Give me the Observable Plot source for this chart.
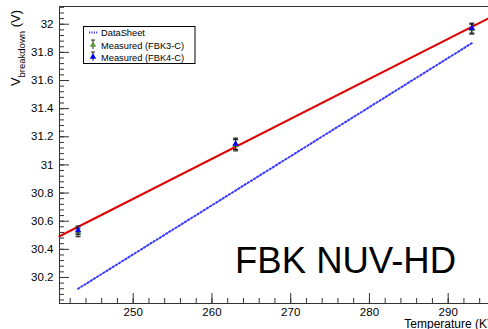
<!DOCTYPE html>
<html><head><meta charset="utf-8">
<script src="https://cdn.jsdelivr.net/npm/d3@7"></script>
<script src="https://cdn.jsdelivr.net/npm/@observablehq/plot@0.6"></script>
<style>
html,body{margin:0;padding:0;background:#fff;overflow:hidden}
#chart{position:relative;width:488px;height:329px}
svg{font-family:"Liberation Sans",Arial,Helvetica,sans-serif}
</style></head><body><div id="chart"></div>
<script>
// Measured breakdown voltages (V) vs temperature (K)
const temperature = [243, 263, 293];
const fbk3 = [30.52, 31.14, 31.965];
const fbk3Err = [0.03, 0.04, 0.035];
const fbk4 = [30.535, 31.15, 31.972];
const fbk4Err = [0.03, 0.04, 0.035];
// Datasheet line
const datasheetT = [243, 293];
const datasheetV = [30.12, 31.865];
// Linear fit (red)
const fitT = [240.64, 295.12];
const fitV = [30.493, 32.042];
// Ticks
const xMajor = [250, 260, 270, 280, 290];
const xMinor = d3.range(242, 296, 2);
const yMajor = [30.2, 30.4, 30.6, 30.8, 31, 31.2, 31.4, 31.6, 31.8, 32];
const yMinor = d3.range(0, 53).map(i => +(30.04 + i * 0.04).toFixed(2));
const legendLabels = ["DataSheet", "Measured (FBK3-C)", "Measured (FBK4-C)"];
const annotation = "FBK NUV-HD";

const green = "#5e9a3c", blue = "#0000ee", red = "#e00000", dsBlue = "#3a3aff", axisCol = "#333";

const mk = (vals, errs) => temperature.map((t, i) => ({t, v: vals[i], e: errs[i]}));
const d3data = mk(fbk3, fbk3Err);
const d4data = mk(fbk4, fbk4Err);
const ds = datasheetT.map((t, i) => ({t, v: datasheetV[i]}));
const fit = fitT.map((t, i) => ({t, v: fitV[i]}));

const cap = {draw(ctx) { ctx.moveTo(-2.5, 0); ctx.lineTo(2.5, 0); }};
const errMarks = (data, col) => [
  Plot.ruleX(data, {x: "t", y1: d => d.v - d.e, y2: d => d.v + d.e, stroke: "#222", strokeWidth: 1}),
  Plot.dot(data, {x: "t", y: d => d.v - d.e, symbol: cap, r: 2, stroke: "#222", strokeWidth: 1.2}),
  Plot.dot(data, {x: "t", y: d => d.v + d.e, symbol: cap, r: 2, stroke: "#222", strokeWidth: 1.2}),
  Plot.dot(data, {x: "t", y: "v", symbol: "triangle", r: 2.4, fill: col, stroke: "none"})
];

const chart = Plot.plot({
  width: 488, height: 329,
  marginLeft: 59, marginRight: 0, marginTop: 6, marginBottom: 26,
  style: {fontSize: "11.5px", fontFamily: "'Liberation Sans', Arial, sans-serif", color: "#000", background: "#fff"},
  x: {domain: [240.64, 295.12]},
  y: {domain: [30.015, 32.126]},
  marks: [
    Plot.axisX({ticks: xMinor, tickSize: -5, tickFormat: () => "", label: null, stroke: axisCol}),
    Plot.axisX({ticks: xMajor, tickSize: -10, tickPadding: 14, tickFormat: d => String(d), label: null, stroke: axisCol, fill: "#000"}),
    Plot.axisY({ticks: yMinor, tickSize: -5, tickFormat: () => "", label: null, stroke: axisCol}),
    Plot.axisY({ticks: yMajor, tickSize: -10, tickPadding: 16, tickFormat: d => String(d), label: null, stroke: axisCol, fill: "#000"}),
    Plot.frame({anchor: "left", stroke: axisCol}),
    Plot.frame({anchor: "bottom", stroke: axisCol}),
    Plot.frame({anchor: "top", stroke: axisCol}),
    Plot.line(ds, {x: "t", y: "v", stroke: dsBlue, strokeWidth: 2, strokeDasharray: "1.5,2.2"}),
    Plot.line(fit, {x: "t", y: "v", stroke: red, strokeWidth: 2}),
    ...errMarks(d3data, green),
    ...errMarks(d4data, blue)
  ]
});
document.getElementById("chart").appendChild(chart);

const svg = d3.select(chart);
// y-axis title
const yl = svg.append("text").attr("transform", "translate(20,10) rotate(-90)")
  .attr("text-anchor", "end").attr("font-size", 13).attr("fill", "#000");
yl.append("tspan").text("V");
yl.append("tspan").attr("font-size", 9.5).attr("dy", 5).text("breakdown");
yl.append("tspan").attr("dy", -5).text(" (V)");
// x-axis title
svg.append("text").attr("x", 491).attr("y", 327.5).attr("text-anchor", "end")
  .attr("font-size", 12).attr("fill", "#000").text("Temperature (K)");
// annotation
svg.append("text").attr("x", 235).attr("y", 273).attr("text-anchor", "start")
  .attr("font-size", 36.5).attr("fill", "#000").text(annotation);
// legend
const lg = svg.append("g");
lg.append("rect").attr("x", 83.5).attr("y", 26.5).attr("width", 111.5).attr("height", 37)
  .attr("fill", "#fff").attr("stroke", "#000").attr("stroke-width", 1);
lg.append("line").attr("x1", 89).attr("x2", 98).attr("y1", 32.5).attr("y2", 32.5)
  .attr("stroke", dsBlue).attr("stroke-width", 2).attr("stroke-dasharray", "1.2,1.2");
const tri = d3.symbol(d3.symbolTriangle, Math.PI * 2.4 * 2.4)();
[[45, green], [57, blue]].forEach(([cy, col]) => {
  lg.append("line").attr("x1", 93).attr("x2", 93).attr("y1", cy - 5).attr("y2", cy + 4).attr("stroke", "#222");
  lg.append("line").attr("x1", 91).attr("x2", 95).attr("y1", cy - 5).attr("y2", cy - 5).attr("stroke", "#222");
  lg.append("path").attr("d", tri).attr("transform", `translate(93,${cy})`).attr("fill", col);
});
legendLabels.forEach((t, i) => {
  lg.append("text").attr("x", 101).attr("y", [36, 48.5, 60.5][i]).attr("text-anchor", "start")
    .attr("font-size", 9.3).attr("fill", "#000").text(t);
});
</script></body></html>
